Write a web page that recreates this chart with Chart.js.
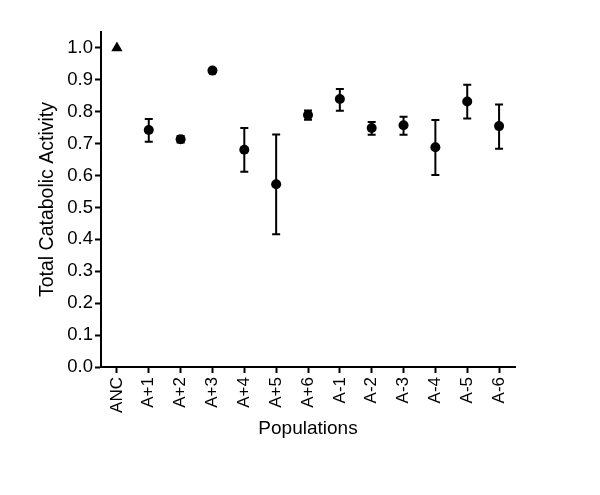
<!DOCTYPE html>
<html>
<head>
<meta charset="utf-8">
<script src="https://cdn.jsdelivr.net/npm/chart.js@4/dist/chart.umd.min.js"></script>
<style>
  body { margin: 0; background: #fff; }
</style>
</head>
<body>
<canvas id="chart" width="600" height="495"></canvas>
<script>
var categories = ["ANC", "A+1", "A+2", "A+3", "A+4", "A+5", "A+6", "A-1", "A-2", "A-3", "A-4", "A-5", "A-6"];
var means   = [1.0, 0.743, 0.714, 0.929, 0.681, 0.573, 0.790, 0.840, 0.749, 0.758, 0.689, 0.832, 0.755];
var errHigh = [1.0, 0.777, 0.724, 0.932, 0.749, 0.729, 0.804, 0.871, 0.768, 0.784, 0.774, 0.885, 0.823];
var errLow  = [1.0, 0.706, 0.704, 0.926, 0.612, 0.416, 0.775, 0.803, 0.728, 0.728, 0.602, 0.779, 0.684];
var yTicks = [0.0, 0.1, 0.2, 0.3, 0.4, 0.5, 0.6, 0.7, 0.8, 0.9, 1.0];

var FONT = "'Liberation Sans', Arial, Helvetica, sans-serif";

// error bars drawn through the chart scales
var errorBars = {
    id: 'errorBars',
    afterDatasetsDraw: function(chart) {
        var ctx = chart.ctx;
        var x = chart.scales.x, y = chart.scales.y;
        ctx.save();
        ctx.strokeStyle = '#000';
        ctx.lineWidth = 2;
        for (var i = 0; i < categories.length; i++) {
            if (errHigh[i] === errLow[i]) continue;
            var px = x.getPixelForValue(i);
            var top = y.getPixelForValue(errHigh[i]);
            var bot = y.getPixelForValue(errLow[i]);
            ctx.beginPath();
            ctx.moveTo(px, top); ctx.lineTo(px, bot);
            ctx.moveTo(px - 4, top); ctx.lineTo(px + 4, top);
            ctx.moveTo(px - 4, bot); ctx.lineTo(px + 4, bot);
            ctx.stroke();
        }
        ctx.restore();
    }
};

var ctx = document.getElementById('chart').getContext('2d');
var chart = new Chart(ctx, {
    type: 'line',
    data: {
        labels: categories,
        datasets: [{
            data: means,
            showLine: false,
            pointStyle: categories.map(function(c) { return c === 'ANC' ? 'triangle' : 'circle'; }),
            pointRadius: categories.map(function(c) { return c === 'ANC' ? 6.5 : 5; }),
            backgroundColor: '#000',
            borderColor: '#000',
            borderWidth: 0
        }]
    },
    options: {
        responsive: false,
        animation: false,
        layout: {
            padding: { top: 32, right: 85, left: 0, bottom: 0 }
        },
        scales: {
            x: {
                type: 'category',
                offset: true,
                afterFit: function(scale) { scale.height = 128; },
                grid: {
                    drawOnChartArea: false,
                    tickLength: 6,
                    tickColor: '#000',
                    tickWidth: 2
                },
                border: { display: true, color: '#000', width: 2 },
                ticks: {
                    minRotation: 90,
                    maxRotation: 90,
                    padding: 4,
                    color: '#000',
                    font: { family: FONT, size: 17 }
                },
                title: {
                    display: true,
                    text: 'Populations',
                    color: '#000',
                    font: { family: FONT, size: 19 },
                    padding: { top: 0, bottom: 55 }
                }
            },
            y: {
                min: 0,
                max: 1.05,
                afterFit: function(scale) { scale.width = 101; },
                afterBuildTicks: function(scale) {
                    scale.ticks = yTicks.map(function(v) { return { value: v }; });
                },
                grid: {
                    drawOnChartArea: false,
                    tickLength: 6,
                    tickColor: '#000',
                    tickWidth: 2
                },
                border: { display: true, color: '#000', width: 2 },
                ticks: {
                    padding: 2,
                    color: '#000',
                    font: { family: FONT, size: 18.5 },
                    callback: function(value) { return Number(value).toFixed(1); }
                },
                title: {
                    display: true,
                    text: 'Total Catabolic Activity',
                    color: '#000',
                    font: { family: FONT, size: 19.5 },
                    padding: { top: 36, bottom: 0 }
                }
            }
        },
        plugins: {
            legend: { display: false },
            tooltip: { enabled: false }
        }
    },
    plugins: [errorBars]
});
</script>
</body>
</html>
